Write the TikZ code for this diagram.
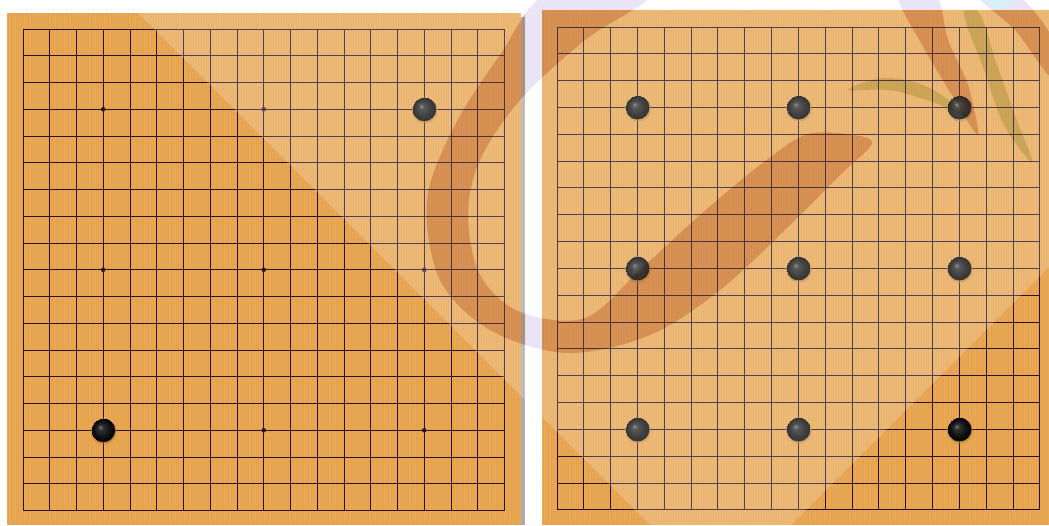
\documentclass[tikz,border=0pt]{standalone}
\usepackage{tikz}

\definecolor{wood}{RGB}{233,168,84}
\definecolor{grain}{RGB}{196,120,48}
\definecolor{gridcol}{RGB}{42,16,34}
\definecolor{glowcol}{RGB}{176,128,52}
\definecolor{wmbrown}{RGB}{232,200,180}
\definecolor{wmlav}{RGB}{228,222,244}
\definecolor{wmgreen}{RGB}{220,230,192}
\definecolor{wmcyan}{RGB}{206,236,246}

\pgfdeclareradialshading{stoneshade}{\pgfpoint{-7bp}{7bp}}{%
  color(0bp)=(black!55); color(6bp)=(black!82); color(15bp)=(black!92); color(25bp)=(black)}

\tikzset{
  gridln/.style={draw=gridcol, line width=1pt},
  grainln/.style={draw=grain, line width=0.6pt, opacity=0.12},
  starpt/.style={fill=gridcol},
  glow/.style={fill=glowcol, opacity=0.55},
  stoneball/.style={shading=stoneshade}
}

% 浮水印筆畫 (C 形與右上兩筆), #1 為填色
\newcommand{\wmstrokes}[1]{%
  \fill[#1] plot[smooth cycle, tension=0.55] coordinates {
    (548,-6) (500,55) (455,125) (427,200) (440,280) (490,330) (567,353)
    (650,335) (720,290) (790,225) (840,175) (872,143)
    (845,134) (805,135) (760,165) (700,215) (640,270) (585,318)
    (520,312) (480,275) (468,215) (480,160) (520,100) (585,40) (650,-6)};
  \fill[#1] plot[smooth cycle, tension=0.5] coordinates {
    (898,-4) (925,50) (955,100) (978,135) (968,85) (948,40) (936,-4)};
  \fill[#1] plot[smooth cycle, tension=0.5] coordinates {
    (978,-4) (1015,30) (1052,78) (1052,38) (1018,-4)};
}

\begin{document}
\begin{tikzpicture}[x=1pt, y=-1pt]
    % --- 0. 畫布範圍 ---
    \useasboundingbox (0,0) rectangle (1049,525);
    \fill[white] (0,0) rectangle (1049,525);

    % --- 1. 棋盤參數 (左: L, 右: R) ---
    \def\Lx{23}  \def\Ly{29} \def\Ld{26.75}
    \def\Rx{557} \def\Ry{27} \def\Rd{26.83}
    \def\rS{12}

    % --- 2. 白底上的淡紫浮水印 (被木板蓋住) ---
    \wmstrokes{wmlav}
    \fill[wmcyan] plot[smooth cycle, tension=0.6] coordinates {
      (984,-2) (998,10) (1014,-2)};

    % --- 3. 木板與木紋 ---
    \fill[gray!65] (521,17) rectangle (525,525);
    \fill[wood] (7,12.5) rectangle (521,525);
    \fill[wood] (542,10) rectangle (1049,525);
    \foreach \x in {8.5,11,...,520} \draw[grainln] (\x,12.5) -- (\x,525);
    \foreach \x in {543.5,546,...,1048} \draw[grainln] (\x,10) -- (\x,525);

    % --- 4. 格線 (19 路) ---
    \foreach \i in {0,...,18} {
      \draw[gridln] (\Lx+\i*\Ld,\Ly) -- (\Lx+\i*\Ld,\Ly+18*\Ld);
      \draw[gridln] (\Lx,\Ly+\i*\Ld) -- (\Lx+18*\Ld,\Ly+\i*\Ld);
      \draw[gridln] (\Rx+\i*\Rd,\Ry) -- (\Rx+\i*\Rd,\Ry+18*\Rd);
      \draw[gridln] (\Rx,\Ry+\i*\Rd) -- (\Rx+18*\Rd,\Ry+\i*\Rd);
    }

    % --- 5. 星位 ---
    \foreach \a in {3,9,15}
      \foreach \b in {3,9,15}
        \fill[starpt] (\Lx+\a*\Ld,\Ly+\b*\Ld) circle (2.3pt);

    % --- 6. 棋子: 左盤兩子, 右盤九子 ---
    \foreach \a/\b in {15/3, 3/15} {
      \fill[glow] (\Lx+\a*\Ld+0.5,\Ly+\b*\Ld+1.2) circle (13pt);
      \shade[stoneball] (\Lx+\a*\Ld,\Ly+\b*\Ld) circle (\rS pt);
    }
    \foreach \a in {3,9,15}
      \foreach \b in {3,9,15} {
        \fill[glow] (\Rx+\a*\Rd+0.5,\Ry+\b*\Rd+1.2) circle (13pt);
        \shade[stoneball] (\Rx+\a*\Rd,\Ry+\b*\Rd) circle (\rS pt);
      }

    % --- 7. 木板上的浮水印 ---
    \fill[white, opacity=0.2] (125,0) -- (1049,0) -- (1049,267) -- (791,525) -- (650,525) -- cycle;
    \begin{scope}[blend mode=multiply]
      \clip (7,12.5) rectangle (525,525) (542,10) rectangle (1049,525);
      \wmstrokes{wmbrown}
      \fill[wmgreen] plot[smooth cycle, tension=0.6] coordinates {
        (848,90) (885,78) (930,88) (966,116) (930,101) (888,90)};
      \fill[wmgreen] plot[smooth cycle, tension=0.6] coordinates {
        (964,14) (984,70) (1004,125) (1032,162) (1016,118) (996,62) (980,14)};
    \end{scope}
\end{tikzpicture}
\end{document}
